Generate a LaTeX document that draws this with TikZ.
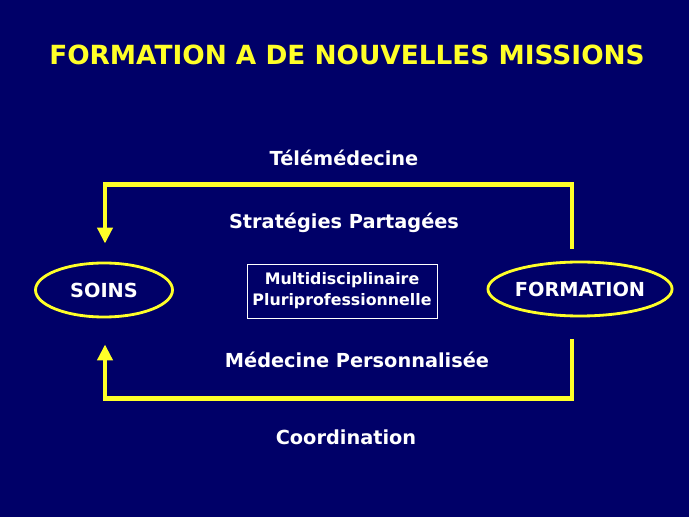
\documentclass[tikz,border=0pt]{standalone}
\usepackage{fontspec}
\setmainfont{DejaVu Sans}
\usepackage{xcolor}
\usetikzlibrary{arrows.meta,positioning,calc,shapes.geometric}
\definecolor{navy}{RGB}{0,0,104}
\definecolor{jaune}{RGB}{255,255,40}

\begin{document}
\begin{tikzpicture}[>={Triangle[length=.32cm,width=.3cm]},
  every node/.style={font=\bfseries\fontsize{11}{13}\selectfont,text=white},
  lien/.style={jaune,line width=2.4pt},
  pole/.style={ellipse,draw=jaune,line width=1.6pt,minimum height=1.08cm,inner sep=0pt}]
\fill[navy] (0,0) rectangle (13.78,10.34);
\useasboundingbox (0,0) rectangle (13.78,10.34);
% titre
\node[text=jaune,font=\bfseries\fontsize{15}{18}\selectfont] (titre) at (6.94,9.24) {FORMATION A DE NOUVELLES MISSIONS};
% les deux poles
\node[pole,minimum width=2.74cm] (soins) at (2.08,4.54) {SOINS};
\node[pole,minimum width=3.64cm] (formation) at (11.6,4.56) {FORMATION};
\node[draw=white,line width=.5pt,minimum width=3.8cm,minimum height=1.08cm,align=center,inner sep=1pt,
  font=\bfseries\fontsize{9}{12}\selectfont] (multi) at (6.84,4.52) {Multidisciplinaire\\Pluriprofessionnelle};
% libelles
\node (tele) at (6.88,7.18) {Télémédecine};
\node (strat) at (6.88,5.88) {Stratégies Partagées};
\node (perso) at (7.14,3.14) {Médecine Personnalisée};
\node (coord) at (6.92,1.60) {Coordination};
% boucles
\draw[lien,->] ([shift={(-.16,.24)}]formation.north) |- ([shift={(.02,1.54)}]soins.north) -- ([shift={(.02,.36)}]soins.north);
\draw[lien,->] ([shift={(-.16,-.44)}]formation.south) |- ([shift={(.02,-1.60)}]soins.south) -- ([shift={(.02,-.52)}]soins.south);
\end{tikzpicture}
\end{document}
